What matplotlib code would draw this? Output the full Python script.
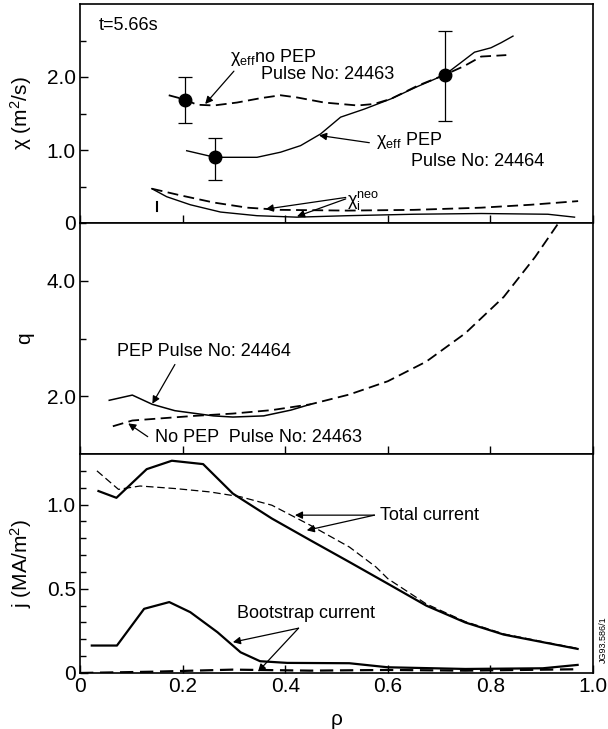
import matplotlib
matplotlib.use("Agg")
import matplotlib.pyplot as plt
import numpy as np

plt.rcParams['font.family'] = ['Liberation Sans', 'DejaVu Sans']
plt.rcParams['mathtext.fontset'] = 'custom'
plt.rcParams['mathtext.rm'] = 'Liberation Sans'
plt.rcParams['mathtext.it'] = 'Liberation Sans'

# ---- top panel: chi (m^2/s) ----
rho_nopep = [0.173, 0.205, 0.228, 0.261, 0.306, 0.352, 0.391, 0.423, 0.476, 0.541,
             0.573, 0.606, 0.658, 0.711, 0.749, 0.782, 0.831]
chi_nopep = [1.75, 1.69, 1.62, 1.61, 1.65, 1.71, 1.75, 1.72, 1.65, 1.61,
             1.63, 1.70, 1.88, 2.03, 2.15, 2.28, 2.30]
rho_pep = [0.208, 0.263, 0.345, 0.391, 0.430, 0.469, 0.508, 0.554, 0.606, 0.658,
           0.711, 0.743, 0.769, 0.801, 0.821, 0.844]
chi_pep = [0.99, 0.90, 0.90, 0.97, 1.06, 1.22, 1.45, 1.56, 1.70, 1.87,
           2.03, 2.20, 2.34, 2.40, 2.47, 2.56]
rho_neo_pep = [0.140, 0.169, 0.215, 0.274, 0.345, 0.423, 0.521, 0.651, 0.782, 0.912, 0.964]
chi_neo_pep = [0.47, 0.36, 0.25, 0.15, 0.10, 0.08, 0.10, 0.12, 0.13, 0.12, 0.08]
rho_neo_nopep = [0.140, 0.195, 0.261, 0.326, 0.391, 0.521, 0.651, 0.782, 0.879, 0.971]
chi_neo_nopep = [0.47, 0.38, 0.28, 0.21, 0.18, 0.17, 0.18, 0.21, 0.25, 0.30]
rho_pts = [0.205, 0.263, 0.711]
chi_pts = [1.69, 0.90, 2.03]
chi_lo = [1.37, 0.59, 1.40]
chi_hi = [2.00, 1.17, 2.63]

# ---- middle panel: q ----
rho_q_nopep = [0.064, 0.102, 0.147, 0.223, 0.298, 0.374, 0.449, 0.525, 0.600,
               0.675, 0.751, 0.826, 0.887, 0.932]
q_nopep = [1.48, 1.58, 1.61, 1.66, 1.70, 1.76, 1.86, 2.03, 2.26,
           2.60, 3.09, 3.72, 4.41, 4.99]
rho_q_pep = [0.057, 0.102, 0.141, 0.185, 0.260, 0.298, 0.358, 0.411, 0.449]
q_pep = [1.93, 2.02, 1.86, 1.75, 1.66, 1.64, 1.66, 1.76, 1.86]

# ---- bottom panel: j (MA/m^2) ----
rho_tot_pep = [0.036, 0.071, 0.130, 0.179, 0.240, 0.298, 0.374, 0.449, 0.525, 0.600,
               0.675, 0.751, 0.826, 0.902, 0.970]
j_tot_pep = [1.08, 1.04, 1.21, 1.26, 1.24, 1.065, 0.917, 0.788, 0.659, 0.530,
             0.400, 0.300, 0.228, 0.183, 0.143]
rho_tot_nopep = [0.033, 0.075, 0.117, 0.185, 0.253, 0.313, 0.374, 0.449, 0.525, 0.577,
                 0.600, 0.675, 0.751, 0.826, 0.902, 0.970]
j_tot_nopep = [1.20, 1.09, 1.11, 1.095, 1.075, 1.046, 0.996, 0.877, 0.748, 0.629,
               0.560, 0.410, 0.305, 0.232, 0.186, 0.146]
rho_bs_pep = [0.023, 0.072, 0.125, 0.174, 0.215, 0.268, 0.313, 0.351, 0.404,
              0.525, 0.600, 0.751, 0.902, 0.970]
j_bs_pep = [0.163, 0.163, 0.381, 0.421, 0.361, 0.242, 0.123, 0.070, 0.060,
            0.058, 0.034, 0.024, 0.028, 0.048]
rho_bs_nopep = [0.0, 0.147, 0.298, 0.449, 0.600, 0.751, 0.962]
j_bs_nopep = [0.0, 0.008, 0.020, 0.014, 0.018, 0.014, 0.022]

fig = plt.figure(figsize=(6.08, 7.29), dpi=100)
left, width = 80 / 608, 513 / 608
ax1 = fig.add_axes([left, 1 - 223 / 729, width, 219 / 729])
ax2 = fig.add_axes([left, 1 - 454 / 729, width, 231 / 729], sharex=ax1)
ax3 = fig.add_axes([left, 1 - 673 / 729, width, 219 / 729], sharex=ax1)

dash = (0, (6, 3))
arrow = dict(arrowstyle='-|>', color='k', lw=0.9, mutation_scale=11, shrinkA=0, shrinkB=0)

# top panel
ax1.plot(rho_nopep, chi_nopep, color='k', lw=1.3, linestyle=dash)
ax1.plot(rho_pep, chi_pep, color='k', lw=1.0)
ax1.plot(rho_neo_pep, chi_neo_pep, color='k', lw=1.0)
ax1.plot(rho_neo_nopep, chi_neo_nopep, color='k', lw=1.3, linestyle=dash)
ax1.errorbar(rho_pts, chi_pts,
             yerr=[np.array(chi_pts) - np.array(chi_lo), np.array(chi_hi) - np.array(chi_pts)],
             fmt='o', color='k', ms=9, elinewidth=0.9, capsize=5, capthick=0.9)
ax1.plot([0.151, 0.151], [0.17, 0.29], color='k', lw=1.5)
ax1.set_ylim(0, 3.0)
ax1.set_yticks([0, 1, 2])
ax1.set_yticklabels(['0', '1.0', '2.0'])
ax1.set_yticks([0.5, 1.5, 2.5], minor=True)
ax1.set_ylabel('χ (m$^2$/s)', fontsize=15)
ax1.text(0.036, 2.70, 't=5.66s', fontsize=13, va='center')
ax1.text(0.292, 2.27, 'χ$_{eff}$no PEP', fontsize=13, va='center')
ax1.text(0.352, 2.03, 'Pulse No: 24463', fontsize=13, va='center')
ax1.annotate('', xy=(0.244, 1.63), xytext=(0.300, 2.08), arrowprops=arrow)
ax1.text(0.577, 1.13, 'χ$_{eff}$ PEP', fontsize=13, va='center')
ax1.text(0.645, 0.84, 'Pulse No: 24464', fontsize=13, va='center')
ax1.annotate('', xy=(0.466, 1.20), xytext=(0.564, 1.10), arrowprops=arrow)
ax1.text(0.521, 0.31, 'χ$_{i}^{neo}$', fontsize=13, va='center')
ax1.annotate('', xy=(0.362, 0.19), xytext=(0.518, 0.35), arrowprops=arrow)
ax1.annotate('', xy=(0.423, 0.09), xytext=(0.518, 0.33), arrowprops=arrow)

# middle panel
ax2.plot(rho_q_nopep, q_nopep, color='k', lw=1.3, linestyle=dash)
ax2.plot(rho_q_pep, q_pep, color='k', lw=1.1)
ax2.set_ylim(1.0, 5.0)
ax2.set_yticks([2, 4])
ax2.set_yticklabels(['2.0', '4.0'])
ax2.set_yticks([1, 3, 5], minor=True)
ax2.set_ylabel('q', fontsize=15)
ax2.text(0.072, 2.78, 'PEP Pulse No: 24464', fontsize=13, va='center')
ax2.annotate('', xy=(0.141, 1.87), xytext=(0.185, 2.55), arrowprops=arrow)
ax2.text(0.147, 1.28, 'No PEP  Pulse No: 24463', fontsize=13, va='center')
ax2.annotate('', xy=(0.094, 1.53), xytext=(0.132, 1.30), arrowprops=arrow)

# bottom panel
ax3.plot(rho_tot_pep, j_tot_pep, color='k', lw=1.6)
ax3.plot(rho_tot_nopep, j_tot_nopep, color='k', lw=0.9, linestyle=dash)
ax3.plot(rho_bs_pep, j_bs_pep, color='k', lw=1.6)
ax3.plot(rho_bs_nopep, j_bs_nopep, color='k', lw=1.6, linestyle=dash)
ax3.set_ylim(0, 1.3)
ax3.set_yticks([0, 0.5, 1.0])
ax3.set_yticklabels(['0', '0.5', '1.0'])
ax3.set_yticks(np.arange(0.1, 1.3, 0.1), minor=True)
ax3.set_ylabel('j (MA/m$^2$)', fontsize=15)
ax3.text(0.585, 0.937, 'Total current', fontsize=13, va='center')
ax3.annotate('', xy=(0.419, 0.937), xytext=(0.574, 0.937), arrowprops=arrow)
ax3.annotate('', xy=(0.442, 0.847), xytext=(0.574, 0.937), arrowprops=arrow)
ax3.text(0.306, 0.351, 'Bootstrap current', fontsize=13, va='center')
ax3.annotate('', xy=(0.298, 0.183), xytext=(0.426, 0.266), arrowprops=arrow)
ax3.annotate('', xy=(0.347, 0.008), xytext=(0.426, 0.266), arrowprops=arrow)
ax3.text(1.012, 0.2, 'JG93.586/1', fontsize=6.5, rotation=90, va='center', ha='left',
         transform=ax3.get_yaxis_transform())
ax3.set_xlim(0, 1.0)
ax3.set_xticks([0, 0.2, 0.4, 0.6, 0.8, 1.0])
ax3.set_xticklabels(['0', '0.2', '0.4', '0.6', '0.8', '1.0'])
ax3.set_xlabel('ρ', fontsize=15, labelpad=10)

for ax in (ax1, ax2, ax3):
    ax.tick_params(direction='in', length=6, width=1.0, labelsize=15, pad=3)
    ax.tick_params(which='minor', direction='in', length=4, width=1.0)
    for s in ax.spines.values():
        s.set_linewidth(1.2)
    ax.yaxis.set_label_coords(-0.09, 0.5)
for ax in (ax1, ax2):
    ax.tick_params(labelbottom=False)

fig.savefig('out.png', dpi=100)
